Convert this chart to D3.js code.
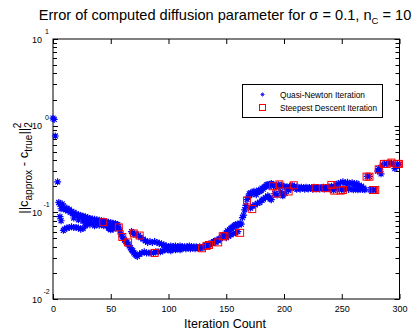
<!DOCTYPE html>
<html>
<head>
<meta charset="utf-8">
<script src="https://cdn.jsdelivr.net/npm/d3@7"></script>
<style>
  body { margin: 0; background: #fff; }
  svg { display: block; font-family: "Liberation Sans", Arial, Helvetica, sans-serif; }
  .star { stroke: #0000ff; stroke-width: 1.2; fill: none; }
  .sq { stroke: #ff0000; stroke-width: 1; fill: none; }
  .tick-line { stroke: #000; stroke-width: 1; }
</style>
</head>
<body>
<svg width="418" height="330"></svg>
<script>
// x ticks / y decades
var xTicks = [0, 50, 100, 150, 200, 250, 300];
var yDecades = [-2, -1, 0, 1];

// Quasi-Newton iterations [iteration, error]
var quasiNewton = [
  [0, 1.22], [1, 1.18], [2, 0.76], [4, 0.225],
  // upper band
  [5, 0.13], [6, 0.124], [7, 0.11], [8, 0.125], [9, 0.118], [10, 0.11], [11, 0.107], [12, 0.112],
  [13, 0.104], [14, 0.108], [15, 0.1], [16, 0.102], [17, 0.097], [18, 0.1], [19, 0.094], [20, 0.096],
  [21, 0.092], [22, 0.094], [23, 0.09], [24, 0.092], [25, 0.088], [26, 0.09], [27, 0.086], [28, 0.089],
  [29, 0.084], [30, 0.087], [31, 0.083], [32, 0.085], [33, 0.081], [34, 0.084], [35, 0.08], [36, 0.083],
  [37, 0.079], [38, 0.082], [39, 0.078], [40, 0.081], [41, 0.077], [42, 0.08], [43, 0.077], [44, 0.079],
  [45, 0.076], [46, 0.078], [47, 0.075], [48, 0.077], [49, 0.074], [50, 0.076], [51, 0.073], [52, 0.075],
  [53, 0.072], [54, 0.074], [55, 0.072],
  // middle / lower band
  [6, 0.089], [7, 0.08], [9, 0.062], [10, 0.064], [12, 0.066], [14, 0.067], [16, 0.068], [18, 0.067],
  [20, 0.067], [22, 0.066], [24, 0.064], [26, 0.065], [28, 0.07], [30, 0.074], [32, 0.072], [34, 0.076],
  [36, 0.07], [38, 0.073], [40, 0.071], [42, 0.074], [44, 0.07], [46, 0.072], [48, 0.066], [49, 0.065],
  [50, 0.063], [52, 0.064], [53, 0.067], [55, 0.068],
  [18, 0.086], [22, 0.082], [26, 0.079], [30, 0.08], [34, 0.078],
  // descent to minimum
  [56, 0.072], [57, 0.066], [58, 0.061], [59, 0.056], [60, 0.052], [61, 0.05], [62, 0.048], [63, 0.046],
  [64, 0.045], [65, 0.043], [66, 0.041], [67, 0.039], [68, 0.037], [69, 0.036], [70, 0.034], [71, 0.033],
  [72, 0.032], [73, 0.031],
  [68, 0.06], [69, 0.058], [70, 0.056], [72, 0.056], [74, 0.054], [76, 0.051], [78, 0.049], [80, 0.047],
  [82, 0.045], [84, 0.046], [86, 0.045], [88, 0.046], [90, 0.045], [92, 0.044], [94, 0.043], [96, 0.042],
  [98, 0.041], [100, 0.04],
  [75, 0.033], [77, 0.034], [79, 0.035], [81, 0.034], [83, 0.034], [85, 0.034], [87, 0.034], [89, 0.035],
  [91, 0.035], [93, 0.035], [95, 0.036], [97, 0.037], [99, 0.037],
  // flat bottom
  [101, 0.039], [102, 0.041], [103, 0.038], [104, 0.04], [105, 0.039], [106, 0.041], [107, 0.038],
  [108, 0.04], [109, 0.039], [110, 0.041], [111, 0.038], [112, 0.04], [113, 0.039], [114, 0.04],
  [115, 0.038], [116, 0.04], [117, 0.039], [118, 0.041], [119, 0.038], [120, 0.04], [121, 0.039],
  [122, 0.04], [123, 0.038], [124, 0.04], [125, 0.039], [126, 0.0385], [127, 0.04], [128, 0.039],
  [129, 0.039], [130, 0.04], [102, 0.036], [106, 0.037], [110, 0.037],
  // rise
  [131, 0.04], [132, 0.041], [133, 0.041], [134, 0.042], [135, 0.043], [136, 0.042], [137, 0.044],
  [138, 0.044], [139, 0.046], [140, 0.046], [141, 0.045], [142, 0.048], [143, 0.047], [144, 0.049],
  [145, 0.05], [146, 0.052], [147, 0.054], [148, 0.053], [149, 0.056], [150, 0.058], [151, 0.061],
  [152, 0.06], [153, 0.063], [154, 0.065], [155, 0.067], [156, 0.068], [157, 0.07], [158, 0.072],
  [159, 0.071], [160, 0.073], [161, 0.072], [162, 0.075], [163, 0.073],
  [150, 0.051], [152, 0.053], [154, 0.055], [156, 0.057], [158, 0.058], [160, 0.06],
  [164, 0.087], [165, 0.093], [166, 0.107], [167, 0.12],
  [168, 0.14], [169, 0.15], [170, 0.163], [171, 0.167], [172, 0.16], [173, 0.17], [174, 0.175],
  [175, 0.168], [176, 0.16], [177, 0.172], [178, 0.18], [179, 0.175], [180, 0.178], [181, 0.19],
  [182, 0.185], [183, 0.195], [184, 0.2], [185, 0.207], [186, 0.21], [187, 0.2], [188, 0.21],
  [189, 0.215], [190, 0.21],
  [171, 0.112], [173, 0.118], [175, 0.122], [177, 0.127], [179, 0.13], [181, 0.138], [182, 0.142],
  [184, 0.148], [186, 0.155], [187, 0.15], [188, 0.143], [189, 0.14],
  // plateau
  [191, 0.2], [192, 0.165], [193, 0.2], [194, 0.158], [195, 0.21], [196, 0.2], [197, 0.172], [198, 0.205],
  [199, 0.155], [200, 0.2], [201, 0.166], [202, 0.195], [203, 0.19], [204, 0.18], [205, 0.2], [206, 0.19],
  [207, 0.205], [208, 0.195], [209, 0.2], [210, 0.19], [211, 0.185], [212, 0.195], [213, 0.19],
  [214, 0.185], [215, 0.195], [216, 0.188], [217, 0.192], [218, 0.185], [219, 0.195], [220, 0.19],
  [221, 0.186], [222, 0.194], [223, 0.188], [224, 0.192], [225, 0.185], [226, 0.195], [227, 0.19],
  [228, 0.187], [229, 0.194], [230, 0.19], [231, 0.186], [232, 0.193], [233, 0.189], [234, 0.195],
  [235, 0.186], [236, 0.192], [237, 0.188], [238, 0.196], [239, 0.19], [240, 0.185], [241, 0.2],
  [242, 0.19], [243, 0.18], [244, 0.198], [245, 0.21], [246, 0.19], [247, 0.215], [248, 0.182],
  [249, 0.22], [250, 0.185], [251, 0.225], [252, 0.182], [253, 0.218], [254, 0.19], [255, 0.222],
  [256, 0.184], [257, 0.215], [258, 0.188], [259, 0.22], [260, 0.182], [261, 0.212], [262, 0.186],
  [263, 0.215], [264, 0.182], [265, 0.205], [266, 0.185], [267, 0.2], [268, 0.183], [269, 0.19],
  [270, 0.182], [272, 0.26], [274, 0.26], [275, 0.182], [277, 0.181], [279, 0.181],
  // final jump
  [281, 0.3], [282, 0.32], [283, 0.31], [284, 0.278], [285, 0.35], [287, 0.36], [289, 0.365],
  [291, 0.37], [293, 0.372], [295, 0.36], [296, 0.32], [297, 0.34], [298, 0.36], [300, 0.36]
];

// Steepest descent iterations [iteration, error]
var steepest = [
  [43.5, 0.077], [57, 0.067], [60, 0.052], [65, 0.045], [70, 0.057], [75, 0.054], [88, 0.034],
  [129, 0.0385], [133, 0.041], [135, 0.042], [143, 0.045], [147, 0.053], [148.5, 0.053], [162, 0.058],
  [168, 0.137], [172.5, 0.109], [190.5, 0.2], [193.5, 0.165], [196, 0.21], [204, 0.174], [208.5, 0.205],
  [227.5, 0.19], [236, 0.19], [241, 0.207], [243.5, 0.178], [249, 0.178], [251, 0.181],
  [271.5, 0.258], [274, 0.258], [277, 0.181], [279, 0.181], [282, 0.314], [286.5, 0.362],
  [289, 0.362], [293, 0.375], [297.5, 0.362], [299.5, 0.362]
];

var plotLeft = 53, plotRight = 399.5, plotTop = 39, plotBottom = 299;

var x = d3.scaleLinear().domain([0, 300]).range([plotLeft, plotRight]);
var y = d3.scaleLog().domain([0.01, 10]).range([plotBottom, plotTop]);

var svg = d3.select("svg");

svg.append("rect")
  .attr("width", 418).attr("height", 330).attr("fill", "#fff");

// title
var title = svg.append("text")
  .attr("x", 225).attr("y", 20)
  .attr("text-anchor", "middle")
  .style("font-size", "14.6px");
title.append("tspan").text("Error of computed diffusion parameter for σ = 0.1, n");
title.append("tspan").attr("dy", 4).style("font-size", "9.5px").text("C");
title.append("tspan").attr("dy", -4).text(" = 10");

// x axes
svg.append("g")
  .attr("transform", "translate(0," + plotBottom + ")")
  .call(d3.axisBottom(x).tickValues(xTicks).tickSizeInner(-5).tickSizeOuter(0).tickPadding(7))
  .call(function(g) { g.select(".domain").remove(); })
  .call(function(g) {
    g.selectAll("text").style("font-size", "9px").attr("fill", "#000")
      .style("font-family", "'Liberation Sans', Arial, sans-serif");
  });

svg.append("g")
  .attr("transform", "translate(0," + plotTop + ")")
  .call(d3.axisTop(x).tickValues(xTicks).tickSizeInner(-5).tickSizeOuter(0).tickFormat(""))
  .call(function(g) { g.select(".domain").remove(); });

// y ticks (log) on both sides
var yTicks = y.ticks();
var yt = svg.append("g").attr("class", "y-ticks");
yt.selectAll("line.l")
  .data(yTicks).enter()
  .append("line").attr("class", "tick-line")
  .attr("x1", plotLeft).attr("x2", function(d) { return plotLeft + (isDecade(d) ? 5 : 4); })
  .attr("y1", function(d) { return Math.round(y(d)) + 0.5; })
  .attr("y2", function(d) { return Math.round(y(d)) + 0.5; });
yt.selectAll("line.r")
  .data(yTicks).enter()
  .append("line").attr("class", "tick-line")
  .attr("x1", plotRight).attr("x2", function(d) { return plotRight - (isDecade(d) ? 5 : 4); })
  .attr("y1", function(d) { return Math.round(y(d)) + 0.5; })
  .attr("y2", function(d) { return Math.round(y(d)) + 0.5; });

yt.selectAll("text.base")
  .data(yDecades).enter()
  .append("text").attr("class", "base")
  .attr("x", 42).attr("y", function(d) { return y(Math.pow(10, d)) + 3.5; })
  .attr("text-anchor", "end")
  .style("font-size", "9px")
  .text("10");
yt.selectAll("text.exp")
  .data(yDecades).enter()
  .append("text").attr("class", "exp")
  .attr("x", function(d) { return d < 0 ? 43.5 : 45; })
  .attr("y", function(d) { return y(Math.pow(10, d)) - 5.5; })
  .style("font-size", "7px")
  .text(function(d) { return d; });

// plot box
svg.append("rect")
  .attr("x", plotLeft).attr("y", plotTop)
  .attr("width", plotRight - plotLeft).attr("height", plotBottom - plotTop)
  .attr("fill", "none").attr("stroke", "#000").attr("stroke-width", 1);

// axis labels
svg.append("text")
  .attr("x", 225).attr("y", 328)
  .attr("text-anchor", "middle")
  .style("font-size", "12.5px")
  .text("Iteration Count");

var ylab = svg.append("text")
  .attr("transform", "translate(28,168) rotate(-90)")
  .attr("text-anchor", "middle")
  .style("font-size", "13px");
ylab.append("tspan").text("||c");
ylab.append("tspan").attr("dy", 4).style("font-size", "10px").text("approx");
ylab.append("tspan").attr("dy", -4).text(" - c");
ylab.append("tspan").attr("dy", 4).style("font-size", "10px").text("true");
ylab.append("tspan").attr("dy", -4).text("||");
ylab.append("tspan").attr("dy", 4).style("font-size", "10px").text("2");
ylab.append("tspan").attr("dx", -6).attr("dy", -11).style("font-size", "10px").text("2");

// markers
var starPath = "M-3.5,0H3.5M0,-3.5V3.5M-2.5,-2.5L2.5,2.5M-2.5,2.5L2.5,-2.5";

svg.append("g").attr("class", "qn")
  .selectAll("path")
  .data(quasiNewton).enter()
  .append("path").attr("class", "star")
  .attr("transform", function(d) { return "translate(" + x(d[0]) + "," + y(d[1]) + ")"; })
  .attr("d", starPath);

svg.append("g").attr("class", "sd")
  .selectAll("rect")
  .data(steepest).enter()
  .append("rect").attr("class", "sq")
  .attr("x", function(d) { return x(d[0]) - 3.5; })
  .attr("y", function(d) { return y(d[1]) - 3.5; })
  .attr("width", 7).attr("height", 7);

// legend
var legend = svg.append("g").attr("class", "legend");
legend.append("rect")
  .attr("x", 242.5).attr("y", 84.5).attr("width", 140).attr("height", 33)
  .attr("fill", "#fff").attr("stroke", "#000").attr("stroke-width", 1);
legend.append("path").attr("class", "star")
  .attr("transform", "translate(262.5,94.5) scale(0.6)")
  .attr("d", starPath);
legend.append("rect").attr("class", "sq")
  .attr("x", 259.5).attr("y", 104.5).attr("width", 6).attr("height", 6);
legend.append("text").attr("x", 280).attr("y", 98)
  .attr("textLength", 85).attr("lengthAdjust", "spacingAndGlyphs")
  .style("font-size", "9px").text("Quasi-Newton Iteration");
legend.append("text").attr("x", 280).attr("y", 111)
  .attr("textLength", 97).attr("lengthAdjust", "spacingAndGlyphs")
  .style("font-size", "9px").text("Steepest Descent Iteration");

function isDecade(d) {
  var l = Math.log10(d);
  return Math.abs(l - Math.round(l)) < 1e-9;
}
</script>
</body>
</html>
